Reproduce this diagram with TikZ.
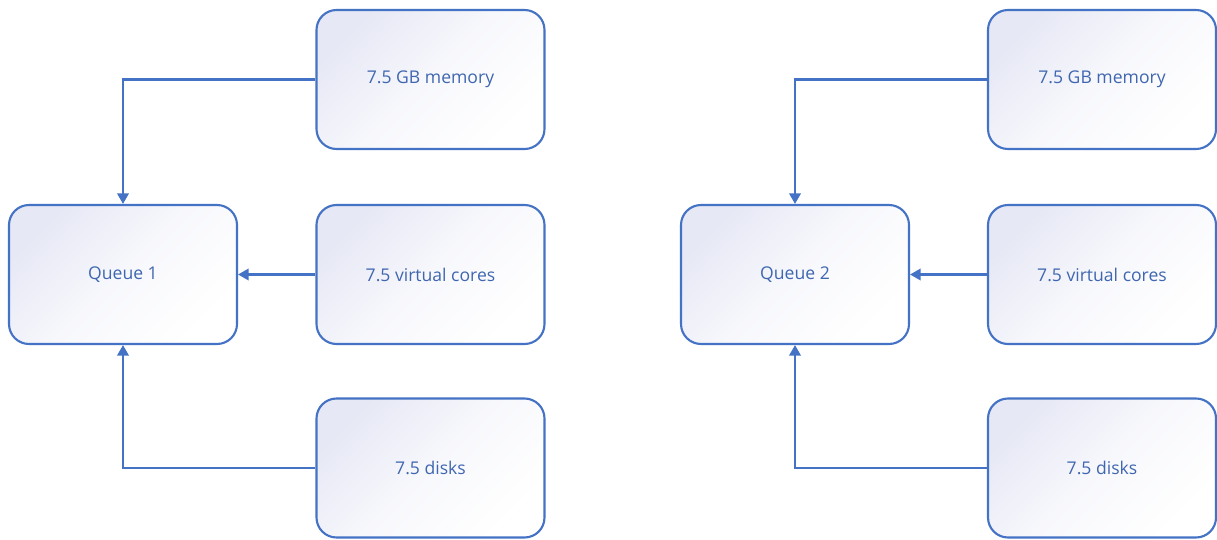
\documentclass[tikz,border=0pt]{standalone}
\usepackage{fontspec}
\setmainfont{Open Sans}
\usepackage{xcolor}
\usetikzlibrary{arrows.meta, positioning, calc}

\definecolor{qblue}{HTML}{4472C4}
\definecolor{qtext}{HTML}{3F66B0}
\definecolor{qshade}{HTML}{E6E8F5}

\begin{document}
\begin{tikzpicture}[
    >=Triangle,
    % --- Box style ---
    res/.style={
        draw=qblue, line width=1.2pt, rounded corners=0.4cm,
        top color=qshade, bottom color=white, middle color=qshade!30,
        shading angle=45,
        minimum width=4.56cm, minimum height=2.78cm,
        align=center, text=qtext, font=\fontsize{10}{12}\selectfont
    },
    % --- Arrow style ---
    link/.style={draw=qblue, line width=1.2pt,
        arrows={-{Triangle[length=6pt, width=6.5pt]}}},
]

% background / bounding box
\fill[white] (0,0) rectangle (24.34,-10.8);
\useasboundingbox (0,0) rectangle (24.34,-10.8);

% =============================================
%  LEFT GROUP
% =============================================
\node[res] (q1)    at (2.46, -5.49)  {Queue 1};
\node[res] (mem1)  at (8.61, -1.59)  {7.5 GB memory};
\node[res] (core1) at (8.61, -5.49)  {7.5 virtual cores};
\node[res] (disk1) at (8.61, -9.36)  {7.5 disks};

% =============================================
%  RIGHT GROUP
% =============================================
\node[res] (q2)    at (15.90, -5.49) {Queue 2};
\node[res] (mem2)  at (22.04, -1.59) {7.5 GB memory};
\node[res] (core2) at (22.04, -5.49) {7.5 virtual cores};
\node[res] (disk2) at (22.04, -9.36) {7.5 disks};

% =============================================
%  Connections
% =============================================
\draw[link] (mem1.west) -| (q1.north);
\draw[link] (core1.west) -- (q1.east);
\draw[link] (disk1.west) -| (q1.south);

\draw[link] (mem2.west) -| (q2.north);
\draw[link] (core2.west) -- (q2.east);
\draw[link] (disk2.west) -| (q2.south);

\end{tikzpicture}
\end{document}
